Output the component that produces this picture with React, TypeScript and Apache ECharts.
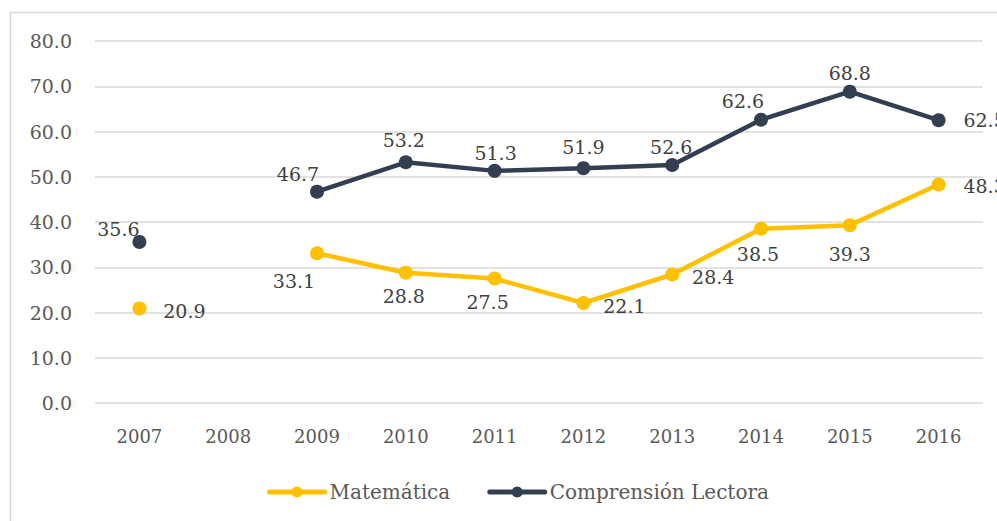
import React, { useEffect, useRef } from "react";
import * as echarts from "echarts";

const years = ["2007", "2008", "2009", "2010", "2011", "2012", "2013", "2014", "2015", "2016"];
const matematica: (number | null)[] = [20.9, null, 33.1, 28.8, 27.5, 22.1, 28.4, 38.5, 39.3, 48.3];
const lectora: (number | null)[] = [35.6, null, 46.7, 53.2, 51.3, 51.9, 52.6, 62.6, 68.8, 62.5];
const matOffsets: number[][] = [[45, 3], [0, 0], [-23, 28], [-2, 23], [-7, 23], [41, 3], [41, 3], [-3, 25], [0, 29], [46, 2]];
const lecOffsets: number[][] = [[-21, -13], [0, 0], [-19, -18], [-2, -22], [1, -18], [0, -21], [-1, -18], [-18, -19], [0, -19], [46, 0]];

const FONT = "DejaVu Serif";

function build(values: (number | null)[], offsets: number[][]) {
  return values.map((v, i) => ({
    value: v,
    label: { show: v !== null, position: "inside", offset: offsets[i] },
  }));
}

export default function App() {
  const ref = useRef<HTMLDivElement>(null);
  useEffect(() => {
    document.body.style.margin = "0";
    const chart = echarts.init(ref.current!, null, { renderer: "svg" });
    const labelStyle = {
      color: "#404040",
      fontFamily: FONT,
      fontSize: 19,
      formatter: (p: any) => Number(p.value).toFixed(1),
    };
    chart.setOption({
      animation: false,
      backgroundColor: "#ffffff",
      graphic: [
        {
          type: "rect",
          shape: { x: 10.5, y: 12.5, width: 1100, height: 700 },
          style: { fill: "none", stroke: "#d9d9d9", lineWidth: 1.5 },
          silent: true,
        },
      ],
      grid: { left: 95, right: 14, top: 41, bottom: 118, containLabel: false },
      legend: {
        left: 262,
        top: 477,
        itemWidth: 55,
        itemHeight: 14,
        itemGap: 37,
        lineStyle: { width: 5, cap: "round" },
        textStyle: { color: "#595959", fontFamily: FONT, fontSize: 20 },
        data: ["Matemática", "Comprensión Lectora"],
      },
      xAxis: {
        type: "category",
        data: years,
        boundaryGap: true,
        axisLine: { show: false },
        axisTick: { show: false },
        axisLabel: { color: "#595959", fontFamily: FONT, fontSize: 18, margin: 24 },
      },
      yAxis: {
        type: "value",
        min: 0,
        max: 80,
        interval: 10,
        axisLine: { show: false },
        axisTick: { show: false },
        axisLabel: {
          color: "#595959",
          fontFamily: FONT,
          fontSize: 19,
          margin: 23,
          formatter: (v: number) => v.toFixed(1),
        },
        splitLine: { lineStyle: { color: "#d9d9d9", width: 1.5 } },
      },
      series: [
        {
          name: "Matemática",
          type: "line",
          data: build(matematica, matOffsets),
          connectNulls: false,
          symbol: "circle",
          symbolSize: 14,
          lineStyle: { color: "#FFC000", width: 4.5 },
          itemStyle: { color: "#FFC000" },
          label: labelStyle,
        },
        {
          name: "Comprensión Lectora",
          type: "line",
          data: build(lectora, lecOffsets),
          connectNulls: false,
          symbol: "circle",
          symbolSize: 14,
          lineStyle: { color: "#333F50", width: 4.5 },
          itemStyle: { color: "#333F50" },
          label: labelStyle,
        },
      ],
    });
    return () => chart.dispose();
  }, []);
  return (
    <div
      ref={ref}
      style={{ position: "fixed", left: 0, top: 0, width: 997, height: 521 }}
    />
  );
}
